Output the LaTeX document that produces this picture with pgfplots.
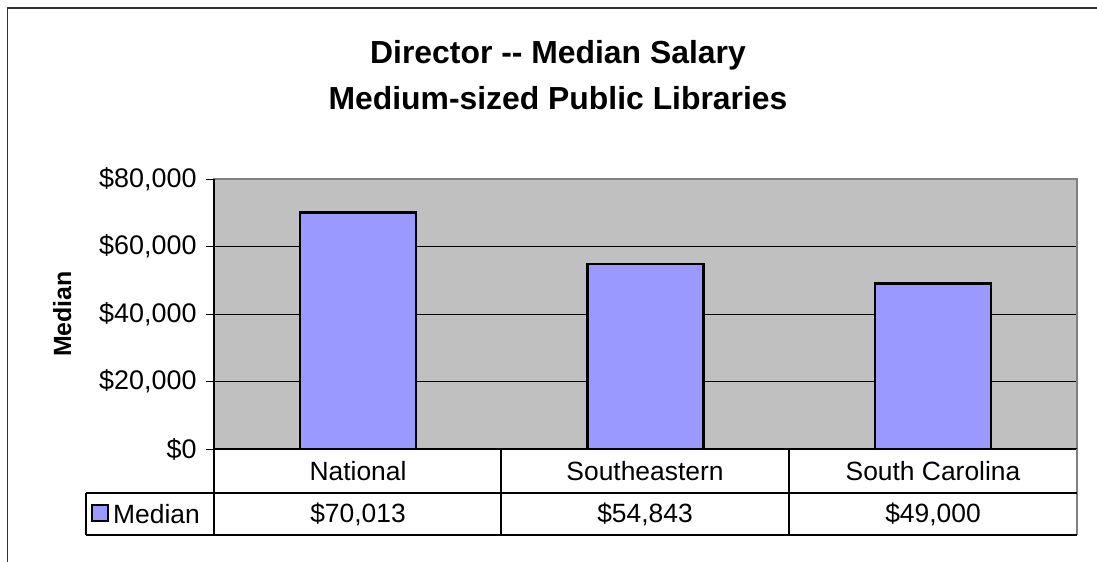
\documentclass[border=0pt]{standalone}
\usepackage{fontspec}
\setmainfont{Liberation Sans}
\usepackage{pgfplots}
\pgfplotsset{compat=1.18}
\definecolor{barblue}{HTML}{9999FF}
\definecolor{plotgray}{HTML}{C0C0C0}
\definecolor{framegray}{HTML}{808080}
\begin{document}
\begin{tikzpicture}[x=1bp,y=1bp]
\path[use as bounding box] (0,0) rectangle (1097,562);
\draw[line width=1.5bp, black!80] (7.5,0) -- (7.5,554) -- (1097,554);
\node[font=\bfseries\fontsize{32}{46}\selectfont, align=center] at (558,487) {Director -{}- Median Salary\\Medium-sized Public Libraries};
\begin{axis}[
  at={(214bp,113bp)}, anchor=south west,
  width=863bp, height=270bp, scale only axis,
  xmin=-0.5, xmax=2.5, ymin=0, ymax=80000,
  ybar, bar width=116bp,
  axis background/.style={fill=plotgray},
  ytick={0,20000,40000,60000,80000},
  ytick pos=left,
  ymajorgrids, grid style={black, line width=0.9bp},
  xtick=\empty,
  tick align=outside, major tick length=8bp,
  ytick style={black, line width=0.9bp},
  axis line style={draw=framegray, line width=1.2bp},
  scaled y ticks=false,
  yticklabel={\$\pgfmathprintnumber{\tick}},
  yticklabel style={font=\fontsize{27}{30}\selectfont, xshift=-6bp},
  ylabel={Median},
  ylabel style={font=\bfseries\fontsize{25}{30}\selectfont, at={(axis description cs:-0.176,0.5)}, anchor=center, rotate=0},
  /pgf/number format/fixed,
  /pgf/number format/1000 sep={,},
  /pgf/number format/assume math mode=true,
  clip=false,
]
\addplot[fill=barblue, draw=black, line width=2.6bp] coordinates {(0,70013) (1,54843) (2,49000)};
\draw[black, line width=1.2bp] (rel axis cs:0,1) -- (rel axis cs:0,0) -- (rel axis cs:1,0);
\end{axis}
% data table
\begin{scope}[line width=1.2bp]
\draw[black] (214,113) -- (214,27);
\draw[black] (501,113) -- (501,27);
\draw[black] (789,113) -- (789,27);
\draw[framegray] (1077,113) -- (1077,27);
\draw[black] (86,69) -- (1077,69);
\draw[black] (86,27) -- (1077,27);
\draw[black] (86,69) -- (86,27);
\end{scope}
\begin{scope}[font=\fontsize{26.5}{30}\selectfont]
\node at (358,91) {National};
\node at (645,91) {Southeastern};
\node at (933,91) {South Carolina};
\node at (358,48) {\$70,013};
\node at (645,48) {\$54,843};
\node at (933,48) {\$49,000};
\draw[fill=barblue, draw=black, line width=2bp] (92,40.5) rectangle (108,56.5);
\node[anchor=west, inner sep=0pt] at (113,48) {Median};
\end{scope}
\end{tikzpicture}
\end{document}
